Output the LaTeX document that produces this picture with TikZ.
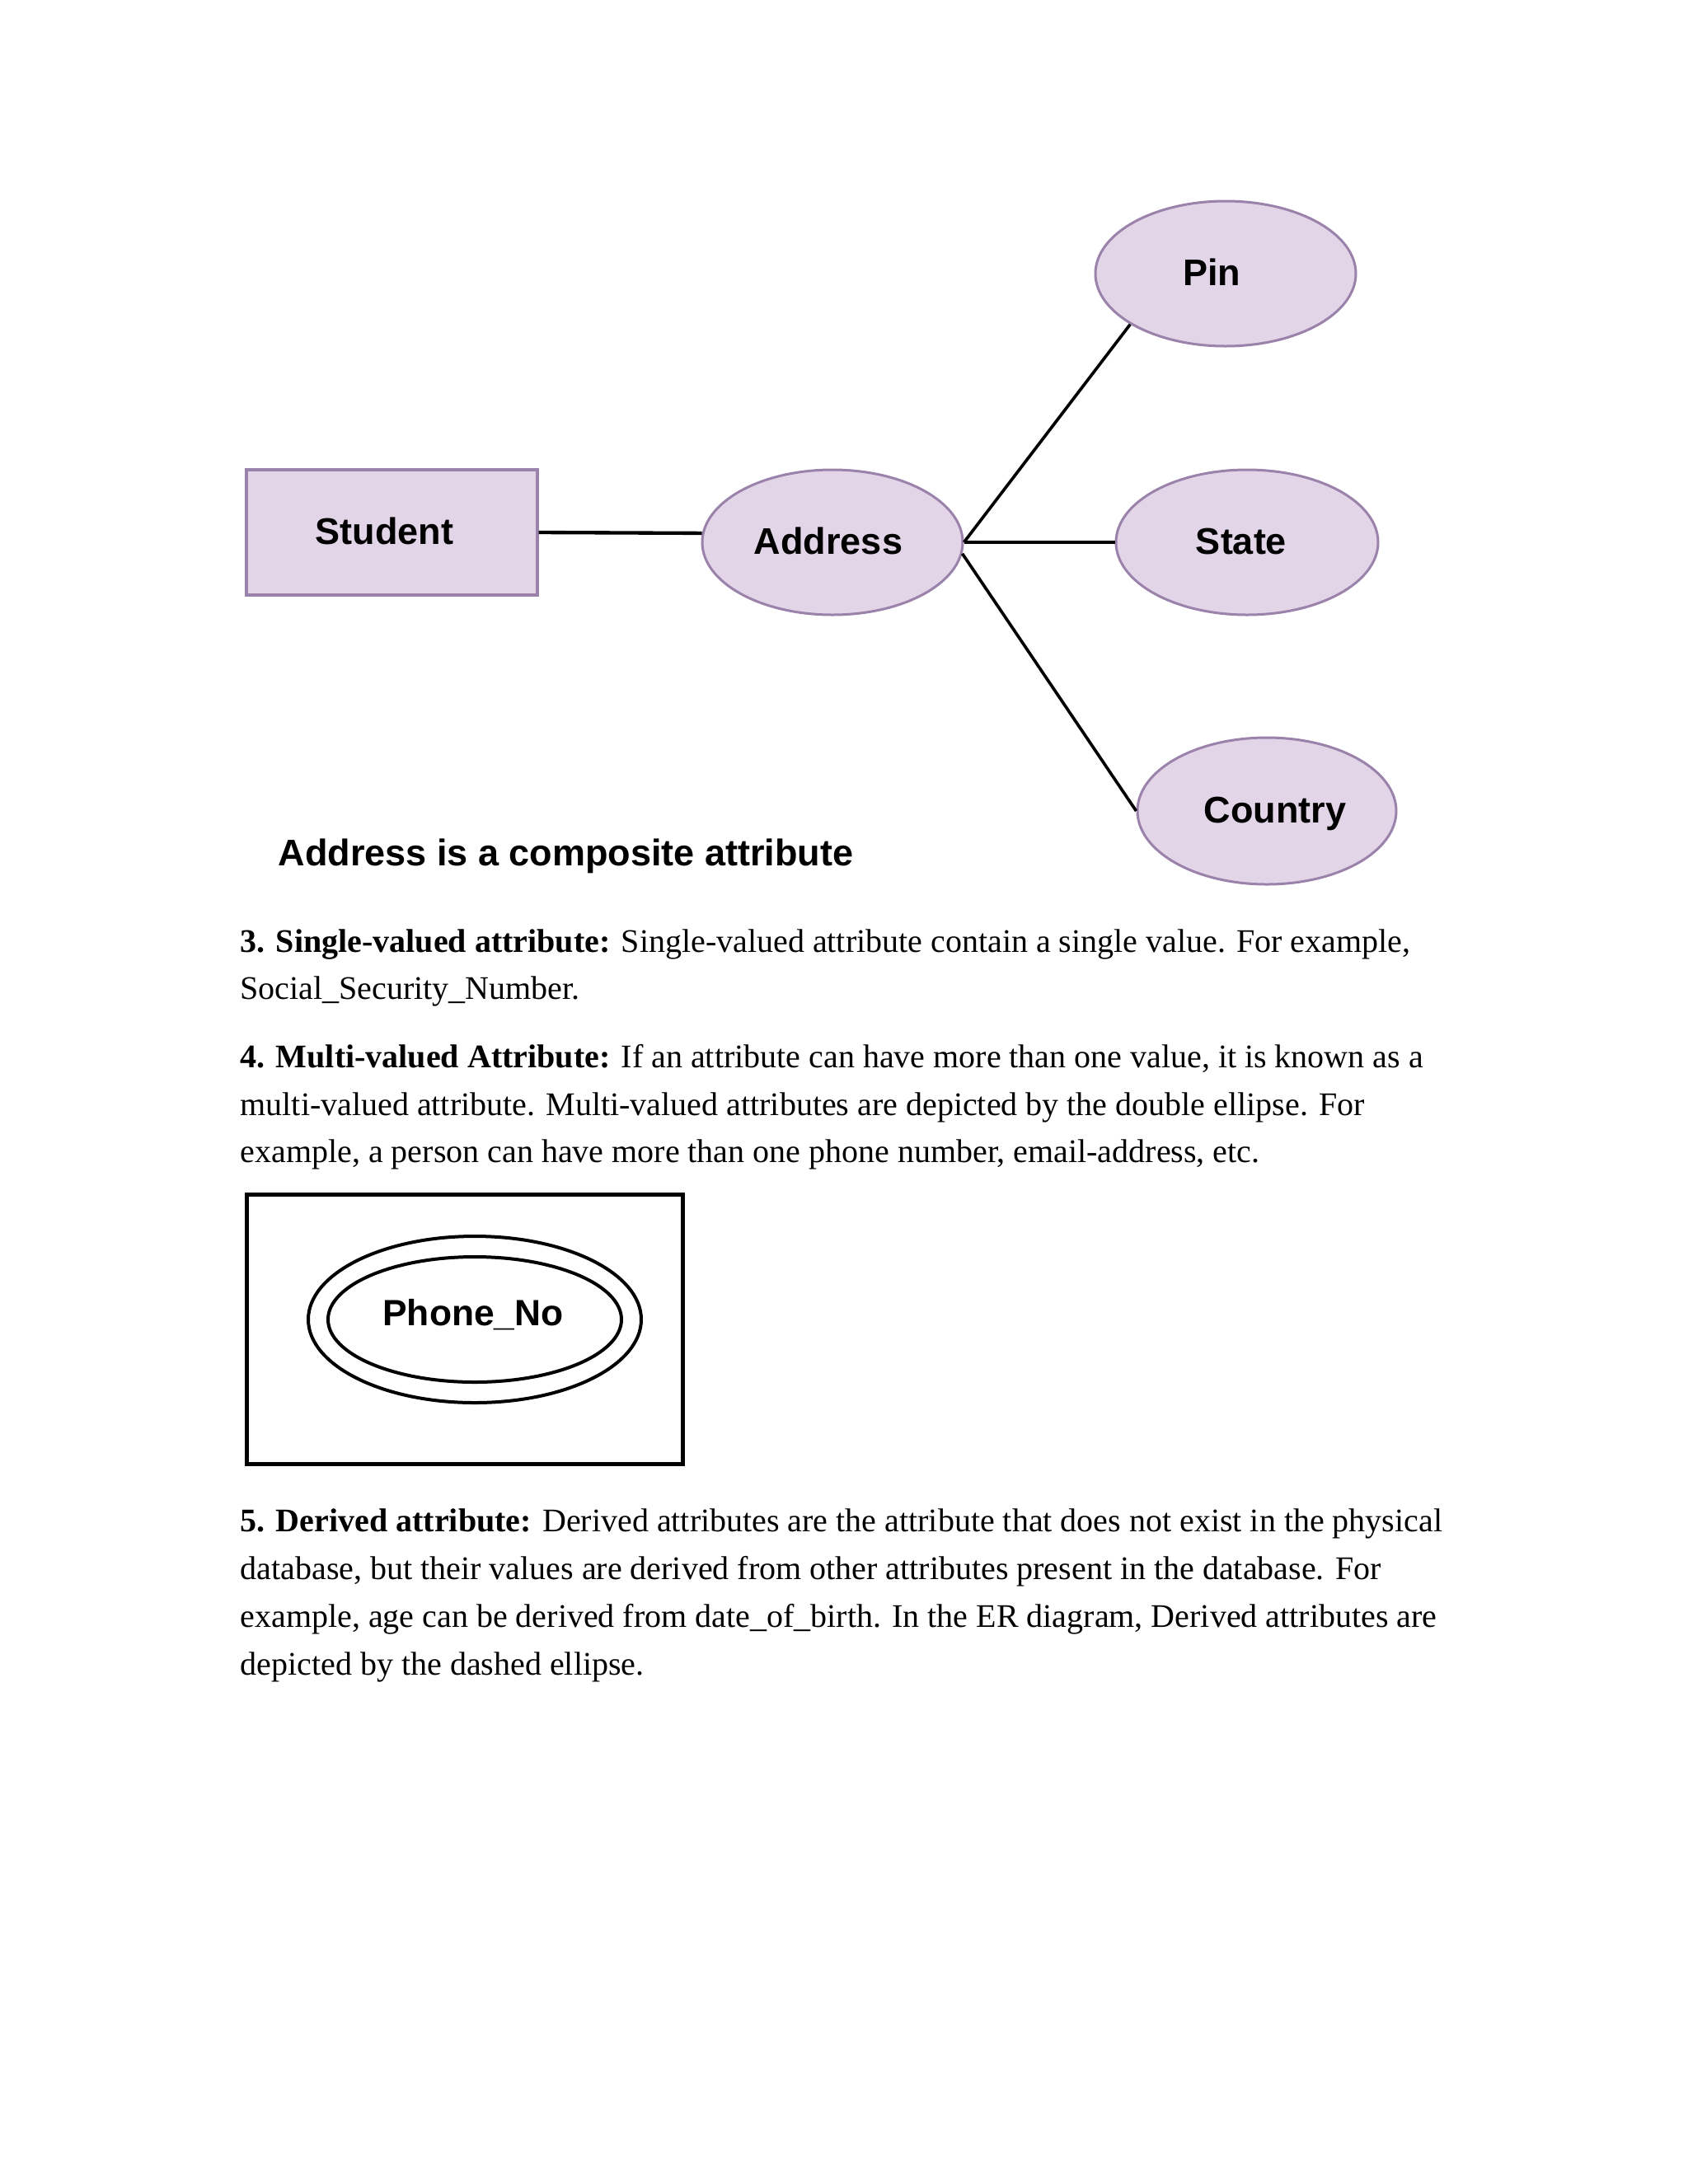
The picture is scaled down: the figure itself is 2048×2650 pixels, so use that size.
\documentclass[tikz,border=0pt]{standalone}
\usepackage{fontspec}
\setmainfont{Liberation Serif}
\newfontfamily\diagfont{Liberation Sans}
\usetikzlibrary{shapes.geometric}
\definecolor{lav}{HTML}{E1D5E7}
\definecolor{lavline}{HTML}{9A82AB}
\begin{document}
\begin{tikzpicture}[x=0.3pt,y=-0.3pt,
  lbl/.style={font=\diagfont\fontsize{13.5}{15}\selectfont\bfseries, text height=8.8pt, text depth=0pt},
  entbox/.style={lbl, rectangle, draw=lavline, fill=lav, line width=1pt,
    minimum width=105.9pt, minimum height=45.6pt, inner sep=0pt},
  attr/.style={lbl, ellipse, draw=lavline, fill=lav, line width=0.9pt,
    minimum width=94.8pt, minimum height=52.8pt, inner sep=0pt},
  conn/.style={black, line width=1.1pt},
  body/.style={anchor=base west, inner sep=0pt, font=\fontsize{12}{14}\selectfont},
  outline/.style={ellipse, draw=black, line width=1.2pt, inner sep=0pt}
]
\fill[white] (0,0) rectangle (2048,2650);
\useasboundingbox (0,0) rectangle (2048,2650);

% composite attribute diagram
\node[entbox] (student) at (475.5,646) {\kern-5.4pt Student};
\node[attr] (addr) at (1010,658) {\kern-3pt Address};
\node[attr] (pin) at (1487,332) {\kern-10pt Pin};
\node[attr, minimum width=95.4pt] (state) at (1513,658) {\kern-4.2pt State};
\node[attr, minimum width=94.2pt, minimum height=53.4pt] (country) at (1537,984) {\kern6pt Country};

\draw[conn, line width=1.3pt] (student.east) -- (addr.176);
\draw[conn] (addr.east) -- (pin.208);
\draw[conn] (addr.east) -- (state.west);
\draw[conn] (addr.-5) -- (country.west);

\node[lbl, anchor=base west, inner sep=0pt] (caption) at (337,1050) {Address is a composite attribute};

% paragraph 3 and 4
\node[body] (l1) at (291,1155) {\textbf{3. Single-valued attribute:} Single-valued attribute contain a single value. For example,};
\node[body] (l2) at (291,1212) {Social\_Security\_Number.};
\node[body] (l3) at (291,1295) {\textbf{4. Multi-valued Attribute:} If an attribute can have more than one value, it is known as a};
\node[body] (l4) at (291,1353) {multi-valued attribute. Multi-valued attributes are depicted by the double ellipse. For};
\node[body] (l5) at (291,1410) {example, a person can have more than one phone number, email-address, etc.};

% multivalued attribute figure
\node[draw=black, line width=1.5pt, rectangle, minimum width=158.7pt, minimum height=98.1pt, inner sep=0pt] (frame) at (563.5,1612.5) {};
\node[outline, minimum width=121.2pt, minimum height=60.6pt] (outer) at (576,1601) {};
\node[outline, minimum width=106.8pt, minimum height=45.6pt,
      font=\diagfont\fontsize{13.3}{16}\selectfont\bfseries, text height=9pt, text depth=0pt] (phone) at (576,1601) {\raisebox{2.4pt}{\kern-1.2pt Phone\_No}};

% paragraph 5
\node[body] (l6) at (291,1858) {\textbf{5. Derived attribute:} Derived attributes are the attribute that does not exist in the physical};
\node[body] (l7) at (291,1916) {database, but their values are derived from other attributes present in the database. For};
\node[body] (l8) at (291,1974) {example, age can be derived from date\_of\_birth. In the ER diagram, Derived attributes are};
\node[body] (l9) at (291,2032) {depicted by the dashed ellipse.};
\end{tikzpicture}
\end{document}
